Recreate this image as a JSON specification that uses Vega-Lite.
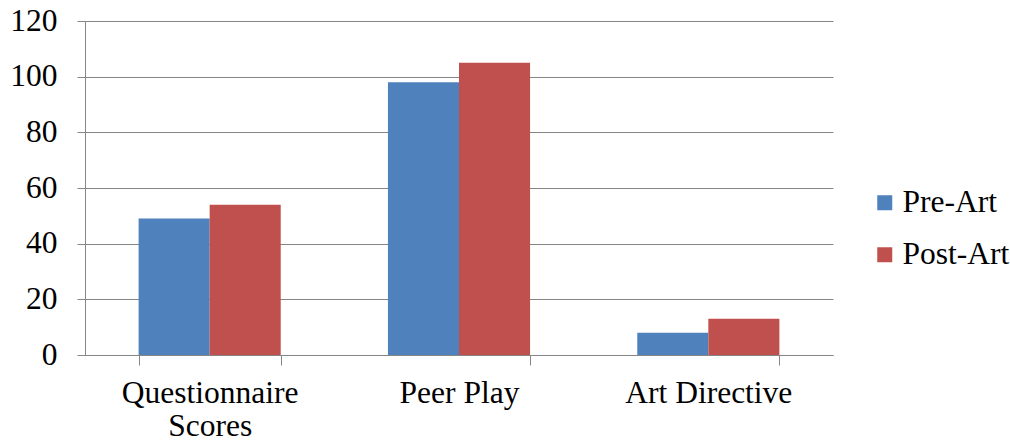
{
  "$schema": "https://vega.github.io/schema/vega-lite/v6.json",
  "autosize": "none",
  "width": 748,
  "height": 334,
  "padding": {"left": 85, "top": 21, "right": 177, "bottom": 88},
  "background": "white",
  "data": {
    "values": [
      {"measure": "Questionnaire Scores", "phase": "Pre-Art", "score": 49},
      {"measure": "Questionnaire Scores", "phase": "Post-Art", "score": 54},
      {"measure": "Peer Play", "phase": "Pre-Art", "score": 98},
      {"measure": "Peer Play", "phase": "Post-Art", "score": 105},
      {"measure": "Art Directive", "phase": "Pre-Art", "score": 8},
      {"measure": "Art Directive", "phase": "Post-Art", "score": 13}
    ]
  },
  "mark": {"type": "bar"},
  "encoding": {
    "x": {
      "field": "measure",
      "type": "nominal",
      "sort": ["Questionnaire Scores", "Peer Play", "Art Directive"],
      "scale": {"paddingInner": 0.43, "paddingOuter": 0.215},
      "axis": {
        "title": null,
        "labelAngle": 0,
        "tickBand": "extent",
        "tickSize": 10,
        "labelPadding": 12,
        "labelLineHeight": 33,
        "labelExpr": "datum.value == 'Questionnaire Scores' ? ['Questionnaire', 'Scores'] : datum.value"
      }
    },
    "xOffset": {
      "field": "phase",
      "type": "nominal",
      "sort": ["Pre-Art", "Post-Art"],
      "scale": {"paddingInner": 0, "paddingOuter": 0}
    },
    "y": {
      "field": "score",
      "type": "quantitative",
      "scale": {"domain": [0, 120]},
      "axis": {
        "title": null,
        "values": [0, 20, 40, 60, 80, 100, 120],
        "tickSize": 8,
        "labelPadding": 20,
        "grid": true
      }
    },
    "color": {
      "field": "phase",
      "type": "nominal",
      "sort": ["Pre-Art", "Post-Art"],
      "scale": {"domain": ["Pre-Art", "Post-Art"], "range": ["#4F81BD", "#C0504D"]},
      "legend": {
        "title": null,
        "orient": "none",
        "legendX": 784,
        "legendY": 166,
        "symbolType": "square",
        "symbolSize": 225,
        "symbolStrokeWidth": 0,
        "labelOffset": 2,
        "rowPadding": 19,
        "padding": 0
      }
    }
  },
  "config": {
    "view": {"stroke": null},
    "font": "'Liberation Serif', 'Times New Roman', serif",
    "axis": {
      "labelFont": "'Liberation Serif', 'Times New Roman', serif",
      "labelFontSize": 31.5,
      "labelColor": "#000000",
      "domainColor": "#868686",
      "tickColor": "#868686",
      "gridColor": "#868686",
      "gridWidth": 1,
      "domainWidth": 1,
      "tickWidth": 1
    },
    "legend": {
      "labelFont": "'Liberation Serif', 'Times New Roman', serif",
      "labelFontSize": 31.5,
      "labelColor": "#000000"
    }
  }
}
